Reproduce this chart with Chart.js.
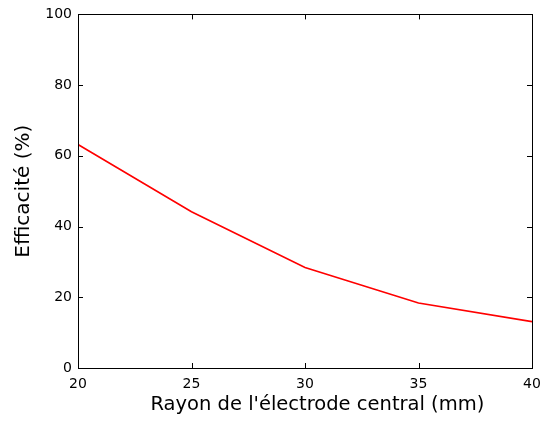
<!DOCTYPE html>
<html>
<head>
<meta charset="utf-8">
<script src="https://cdn.jsdelivr.net/npm/chart.js@4"></script>
<style>
  html, body { margin: 0; padding: 0; background: #fff; }
  #wrap { width: 541px; height: 421px; }
</style>
</head>
<body>
<div id="wrap"><canvas id="chart"></canvas></div>
<script>
// ─── DATA ─────────────────────────────────────────────────
const rayon = [20, 25, 30, 35, 40];               // mm
const efficacite = [63.2, 44.2, 28.4, 18.4, 13.1]; // %
const xTicks = [20, 25, 30, 35, 40];
const yTicks = [0, 20, 40, 60, 80, 100];

const FONT = "'DejaVu Sans', Arial, Helvetica, sans-serif";
Chart.defaults.font.family = FONT;
Chart.defaults.color = '#000';

// MATLAB-style box with inward ticks
const boxTicks = {
    id: 'boxTicks',
    afterDraw(chart) {
        const { ctx, chartArea: a, scales: { x, y } } = chart;
        const len = 5;
        ctx.save();
        ctx.strokeStyle = '#000';
        ctx.lineWidth = 1;
        ctx.beginPath();
        xTicks.forEach(v => {
            const px = Math.round(x.getPixelForValue(v)) + 0.5;
            ctx.moveTo(px, a.bottom); ctx.lineTo(px, a.bottom - len);
            ctx.moveTo(px, a.top); ctx.lineTo(px, a.top + len);
        });
        yTicks.forEach(v => {
            const py = Math.round(y.getPixelForValue(v)) + 0.5;
            ctx.moveTo(a.left, py); ctx.lineTo(a.left + len, py);
            ctx.moveTo(a.right, py); ctx.lineTo(a.right - len, py);
        });
        ctx.stroke();
        ctx.strokeRect(Math.round(a.left) + 0.5, Math.round(a.top) + 0.5,
            Math.round(a.right - a.left), Math.round(a.bottom - a.top));
        ctx.restore();
    }
};

new Chart(document.getElementById('chart'), {
    type: 'line',
    data: {
        datasets: [{
            data: rayon.map((r, i) => ({ x: r, y: efficacite[i] })),
            borderColor: '#ff0000',
            borderWidth: 1.6,
            pointRadius: 0,
            tension: 0,
            fill: false,
        }],
    },
    options: {
        responsive: true,
        maintainAspectRatio: false,
        animation: false,
        layout: { padding: { top: 14, right: 9, left: 0, bottom: 0 } },
        plugins: { legend: { display: false }, tooltip: { enabled: false } },
        scales: {
            x: {
                type: 'linear',
                min: 20, max: 40,
                afterBuildTicks: (s) => { s.ticks = xTicks.map(v => ({ value: v })); },
                afterFit: (s) => { s.height = 53; s.paddingRight = 0; },
                grid: { display: false, drawTicks: false },
                border: { display: false },
                ticks: { padding: 8, font: { size: 14 }, color: '#000', maxRotation: 0 },
                title: {
                    display: true,
                    text: "\u00a0\u00a0\u00a0\u00a0Rayon de l'électrode central (mm)",
                    font: { size: 19.5 },
                    color: '#000',
                    padding: { top: 0, bottom: 4 },
                },
            },
            y: {
                min: 0, max: 100,
                afterBuildTicks: (s) => { s.ticks = yTicks.map(v => ({ value: v })); },
                afterFit: (s) => { s.width = 78; },
                grid: { display: false, drawTicks: false },
                border: { display: false },
                ticks: { padding: 6, font: { size: 14 }, color: '#000' },
                title: {
                    display: true,
                    text: 'Efficacité (%)',
                    font: { size: 20 },
                    color: '#000',
                    padding: { top: 12, bottom: 0 },
                },
            },
        },
    },
    plugins: [boxTicks],
});
</script>
</body>
</html>
